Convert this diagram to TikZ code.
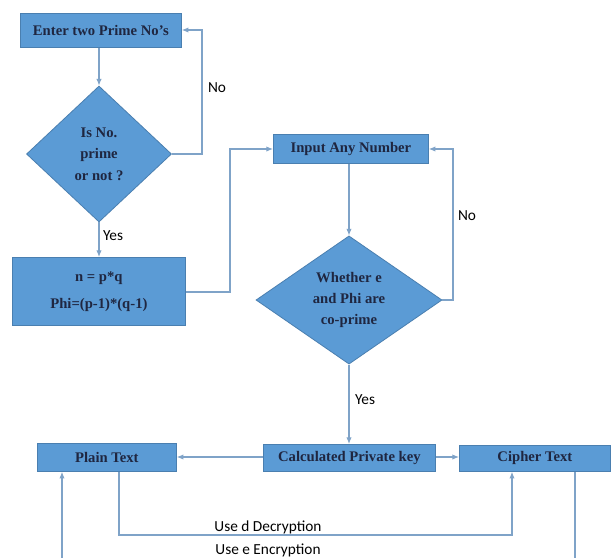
\documentclass[tikz,border=0pt]{standalone}
\usepackage{fontspec}
\setmainfont{Liberation Serif}
\newfontfamily\lblfont{Carlito}
\usetikzlibrary{shapes.geometric,arrows.meta}
\definecolor{boxfill}{HTML}{5B9BD5}
\definecolor{boxline}{HTML}{4A7FB0}
\definecolor{conn}{HTML}{7FA3C8}
\definecolor{boxtext}{HTML}{1F2640}
\begin{document}
\begin{tikzpicture}[x=0.75pt,y=-0.75pt,
  proc/.style={draw=boxline,fill=boxfill,line width=0.6pt,text=boxtext,font=\bfseries\fontsize{11}{13}\selectfont,inner sep=0pt,anchor=north west,align=center},
  dec/.style={diamond,draw=boxline,fill=boxfill,line width=0.6pt,text=boxtext,font=\bfseries\fontsize{11}{16}\selectfont,align=center,inner sep=0pt},
  conn/.style={draw=conn,line width=0.8pt,-{Latex[length=5pt,width=4pt]}},
  plain/.style={draw=conn,line width=0.8pt},
  lbl/.style={font=\lblfont\fontsize{11.5}{13}\selectfont,text=black}]
\useasboundingbox[fill=white] (0,0) rectangle (612,558);
% boxes
\node[proc,minimum width=161*0.75pt,minimum height=34*0.75pt] (enter) at (20,13) {Enter two Prime No's};
\node[dec,minimum width=145*0.75pt,minimum height=136*0.75pt] (isprime) at (99,154) {Is No.\\prime\\or not ?};
\node[proc,minimum width=173*0.75pt,minimum height=68*0.75pt] (calc) at (12,257) {n = p*q\\[7pt]Phi=(p-1)*(q-1)};
\node[proc,minimum width=155*0.75pt,minimum height=29*0.75pt] (input) at (273,134) {Input Any Number};
\node[dec,minimum width=186*0.75pt,minimum height=127*0.75pt] (copr) at (349,300) {Whether e\\and Phi are\\co-prime};
\node[proc,minimum width=172*0.75pt,minimum height=27*0.75pt] (priv) at (263,444) {Calculated Private key};
\node[proc,minimum width=139*0.75pt,minimum height=28*0.75pt] (plaintxt) at (37,443) {Plain Text};
\node[proc,minimum width=151*0.75pt,minimum height=26*0.75pt] (cipher) at (459,445) {Cipher Text};
% coordinates
\coordinate (b1) at (62,558);
\coordinate (b2) at (575,558);
% connectors
\draw[conn] (enter.south -| isprime.north) -- (isprime.north);
\draw[conn] (isprime.east) -- (202,154) -- (202,30) -- (enter.east |- 0,30);
\draw[conn] (isprime.south) -- (calc.north -| isprime.south);
\draw[conn] (calc.east |- 0,292) -- (230,292) -- (230,149) -- (input.west |- 0,149);
\draw[conn] (input.south -| copr.north) -- (copr.north);
\draw[conn] (copr.east) -- (453,300) -- (453,149) -- (input.east |- 0,149);
\draw[conn] (copr.south) -- (priv.north -| copr.south);
\draw[conn] (priv.west |- 0,457) -- (plaintxt.east |- 0,457);
\draw[conn] (priv.east |- 0,457) -- (cipher.west |- 0,457);
\draw[conn] (plaintxt.south -| 119,0) -- (119,535) -- (512,535) -- (cipher.south -| 512,0);
\draw[conn] (b1) -- (plaintxt.south -| b1);
\draw[plain] (cipher.south -| b2) -- (b2);
% labels
\node[lbl] (no1) at (217,88) {No};
\node[lbl] (yes1) at (113,236) {Yes};
\node[lbl] (no2) at (467,216) {No};
\node[lbl] (yes2) at (365,400) {Yes};
\node[lbl] (dec) at (268,527) {Use d Decryption};
\node[lbl] (enc) at (268,550) {Use e Encryption};
\end{tikzpicture}
\end{document}
